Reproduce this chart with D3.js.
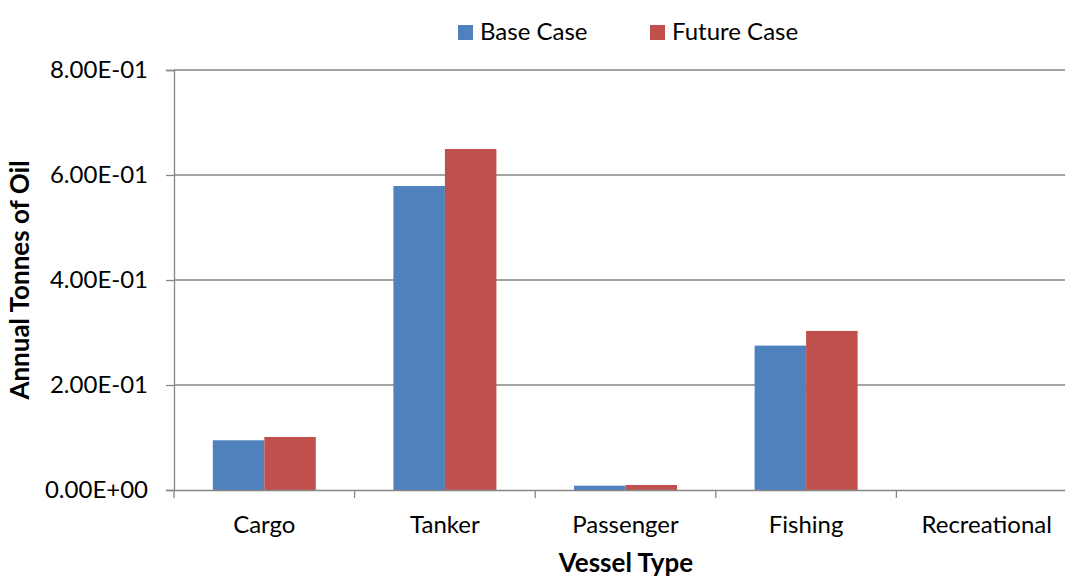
<!DOCTYPE html>
<html><head><meta charset="utf-8">
<script src="https://cdn.jsdelivr.net/npm/d3@7"></script>
<style>body{margin:0;background:#fff;}svg{display:block;font-family:Lato,"Open Sans",sans-serif;}</style>
</head><body><svg id="c" width="1065" height="579"></svg>
<script>
const categories = ["Cargo","Tanker","Passenger","Fishing","Recreational"];
const seriesNames = ["Base Case","Future Case"];
const baseCase = [0.0947,0.579,0.0082,0.275,0];
const futureCase = [0.101,0.6495,0.0095,0.303,0];
const yTicks = [0,0.2,0.4,0.6,0.8];
const colors = ["#4F81BD","#C0504D"];

const svg = d3.select("#c");
const m = {l:174, t:70, r:1077, b:490};
const x = d3.scaleBand().domain(categories).range([m.l,m.r]);
const x1 = d3.scaleBand().domain(seriesNames).range([0,103]);
const y = d3.scaleLinear().domain([0,0.8]).range([m.b,m.t]);
const grey = "#868686";
const FF = "Lato,'Open Sans',sans-serif";

// gridlines
svg.append("g").selectAll("line").data(yTicks.filter(d=>d>0)).join("line")
  .attr("x1",m.l).attr("x2",m.r).attr("y1",d=>y(d)).attr("y2",d=>y(d))
  .attr("stroke",grey).attr("stroke-width",1.3);

// bars
const data = categories.map((c,i)=>({c, vals:[baseCase[i],futureCase[i]]}));
const g = svg.append("g").selectAll("g").data(data).join("g")
  .attr("transform",d=>`translate(${x(d.c)+x.bandwidth()/2-51.5},0)`);
g.selectAll("rect").data(d=>d.vals.map((v,j)=>({v,j}))).join("rect")
  .attr("x",d=>x1(seriesNames[d.j])).attr("width",x1.bandwidth())
  .attr("y",d=>y(d.v)).attr("height",d=>y(0)-y(d.v))
  .attr("fill",d=>colors[d.j]);

// y axis
const ya = svg.append("g").attr("transform",`translate(${m.l},0)`)
  .call(d3.axisLeft(y).tickValues(yTicks).tickSize(8).tickPadding(18)
    .tickFormat(d=>d===0?"0.00E+00":d.toExponential(2).replace("e-","E-0")));
ya.select(".domain").attr("stroke",grey).attr("stroke-width",1.3);
ya.selectAll(".tick line").attr("stroke",grey).attr("stroke-width",1.3);
ya.selectAll("text").attr("font-size",24).attr("fill","#000").attr("font-family",FF);

// x axis
const xa = svg.append("g").attr("transform",`translate(0,${m.b})`)
  .call(d3.axisBottom(x).tickSize(0));
xa.select(".domain").attr("stroke",grey).attr("stroke-width",1.3);
xa.selectAll("text").attr("font-size",24).attr("fill","#000").attr("font-family",FF)
  .attr("y",43).attr("dy",0);
// category boundary ticks
const bounds = categories.map(c=>x(c));
svg.append("g").selectAll("line").data(bounds).join("line")
  .attr("x1",d=>d).attr("x2",d=>d).attr("y1",m.b).attr("y2",m.b+8)
  .attr("stroke",grey).attr("stroke-width",1.3);

// titles
svg.append("text").attr("x",626).attr("y",572).attr("text-anchor","middle")
  .attr("font-size",26).attr("font-weight","bold").text("Vessel Type");
svg.append("text").attr("transform","translate(29,280) rotate(-90)").attr("text-anchor","middle")
  .attr("font-size",26).attr("font-weight","bold").text("Annual Tonnes of Oil");

// legend
const legX = [458,650];
const lg = svg.append("g").selectAll("g").data(seriesNames).join("g")
  .attr("transform",(d,i)=>`translate(${legX[i]},25)`);
lg.append("rect").attr("width",15).attr("height",15).attr("fill",(d,i)=>colors[i]);
lg.append("text").attr("x",22).attr("y",15).attr("font-size",24).text(d=>d);
</script></body></html>
